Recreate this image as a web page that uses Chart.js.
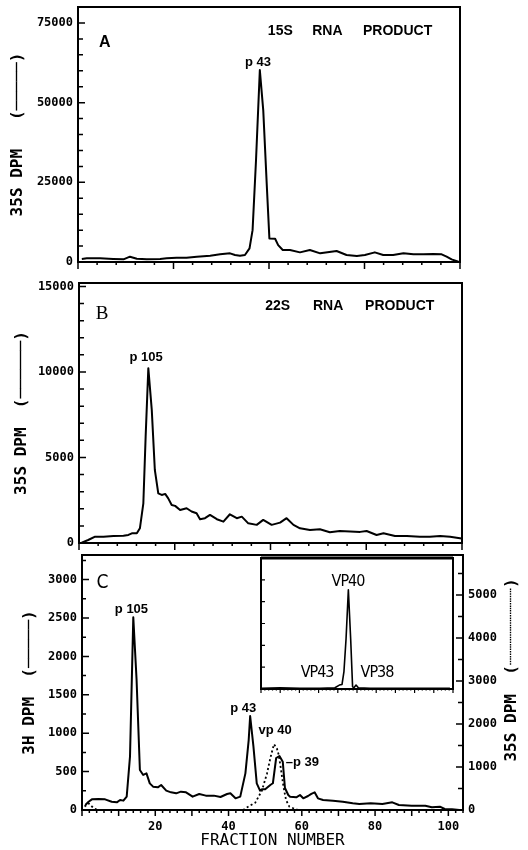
<!DOCTYPE html>
<html lang="en">
<head>
<meta charset="UTF-8">
<title>FRACTION PROFILES</title>
<script src="https://cdn.jsdelivr.net/npm/chart.js"></script>
<style>
    body { margin: 0; background: #fff; }
    #wrap { position: relative; width: 528px; height: 850px; background: #fff; }
    #wrap canvas { position: absolute; }
</style>
</head>
<body>
<div id="wrap">
    <canvas id="chartA" width="528" height="275" style="left:0;top:0"></canvas>
    <canvas id="chartB" width="528" height="276" style="left:0;top:276px"></canvas>
    <canvas id="chartC" width="528" height="305" style="left:0;top:545px"></canvas>
    <canvas id="chartInset" width="202" height="141" style="left:256px;top:553px"></canvas>
</div>
<script>
    // panel A: 15S RNA product (35S dpm)
    var fracA = [1, 2.3, 5.8, 9.2, 11.9, 13.6, 15.4, 18, 21.5, 23.2, 25.8, 28.4, 31.1, 34.6, 37.2, 39.8, 41.1, 42.4, 43.7, 44.9,
        45.7, 46.6, 47.6, 48.5, 49.4, 50.1, 51.6, 52.4, 53.6, 55.5, 58.1, 60.7, 63.4, 67.7, 70.3, 73, 75.1, 77.7, 79.9, 82.5,
        85.2, 87.8, 90.4, 93, 95.2, 96.5, 97.8, 99.6];
    var dpmA = [940, 1150, 1150, 940, 830, 1670, 1040, 830, 940, 1150, 1350, 1350, 1670, 1980, 2400, 2710, 2190, 1980, 2190, 4270,
        10000, 31900, 60200, 47500, 24600, 7400, 7300, 5300, 3750, 3750, 3020, 3750, 2710, 3440, 2190, 1880, 2190, 3020, 2190, 2190,
        2710, 2400, 2400, 2500, 2400, 1670, 830, 100];

    // panel B: 22S RNA product (35S dpm)
    var fracB = [0.7, 2.4, 4.2, 6.4, 9, 11.6, 12.9, 13.8, 15.1, 15.9, 16.8, 17.4, 18.1, 19, 19.8, 20.7, 21.6, 22.5, 23.3, 24.2,
        25.1, 26.4, 28.1, 29.4, 30.7, 31.6, 32.9, 34.2, 36, 37.7, 39.4, 41.2, 42.5, 44.2, 46.4, 48.1, 50.3, 52.5, 54.2, 56,
        57.7, 60.3, 62.9, 65.5, 68.1, 70.8, 73.4, 75.1, 77.7, 79.5, 82.5, 85.6, 89, 91.6, 94.3, 96.9, 98.6, 99.9];
    var dpmB = [20, 175, 370, 370, 410, 430, 470, 565, 565, 860, 2320, 6220, 10220, 7780, 4270, 2900, 2810, 2870, 2610, 2220,
        2170, 1930, 2030, 1840, 1740, 1390, 1450, 1640, 1390, 1250, 1680, 1450, 1540, 1150, 1060, 1350, 1060, 1190, 1450, 1060,
        860, 760, 800, 630, 700, 670, 650, 700, 470, 570, 410, 410, 370, 370, 410, 370, 310, 260];

    // panel C: 3H dpm (solid) and 35S dpm (dotted)
    var fracC = [0.9, 1.8, 2.7, 4.5, 6.3, 8.1, 9.5, 10.4, 11.3, 12.2, 13.1, 14, 14.9, 15.8, 16.7, 17.6, 18.5, 19.4, 20.7, 21.6,
        23, 24.3, 25.7, 27, 28.4, 30.2, 32, 33.8, 36, 37.8, 39.6, 40.5, 41.9, 43.2, 44.6, 45.5, 45.9, 46.8, 47.7, 48.6,
        49.1, 50, 51.4, 52.1, 53, 53.9, 54.8, 55.4, 56.3, 56.8, 58.5, 59.5, 60.4, 61.7, 62.6, 63.5, 64.4, 65.8, 68.5, 71.2,
        73.9, 75.7, 78.8, 82, 84.7, 86.5, 90, 93.7, 95.5, 97.7, 99, 101, 103];
    var h3C = [65, 108, 139, 143, 139, 108, 100, 130, 122, 174, 694, 2508, 1693, 520, 456, 477, 347, 304, 295, 326,
        252, 230, 217, 239, 230, 174, 208, 187, 187, 169, 208, 217, 152, 174, 477, 911, 1224, 825, 347, 252,
        270, 269, 326, 348, 677, 703, 629, 286, 195, 173, 165, 195, 152, 182, 210, 230, 152, 130, 121, 108,
        87, 78, 87, 78, 100, 65, 56, 56, 35, 43, 13, 9, 0];
    var frac35C = [0.7, 1.8, 3.2, 4.2, 44, 45, 47.3, 49.1, 50.5, 51.5, 52.4, 53.2, 53.7, 54.2, 55, 55.7, 56.6, 57.7, 59];
    var s35C = [80, 155, 40, 0, 0, 60, 170, 450, 850, 1240, 1530, 1430, 1280, 1010, 540, 230, 80, 40, 0];

    // inset of panel C
    var fracIn = [0.3, 9.9, 20.3, 30.7, 38.5, 40.8, 42.2, 43.2, 44.3, 45.5, 46.7, 47.7, 48.4, 49.5, 50.7, 56.8, 72.4, 98.4];
    var valIn = [0.03, 0.06, 0.03, 0.03, 0.06, 0.18, 0.21, 0.8, 2.3, 4.54, 2.3, 0.1, 0.06, 0.18, 0.06, 0.03, 0.03, 0.03];

    // tick labels
    var yTicksA = [0, 25000, 50000, 75000];
    var yTicksB = [0, 5000, 10000, 15000];
    var xTicksC = [20, 40, 60, 80, 100];
    var yTicksC = [0, 500, 1000, 1500, 2000, 2500, 3000];
    var y2TicksC = [0, 1000, 2000, 3000, 4000, 5000];

    var MONO = '"DejaVu Sans Mono", monospace';
    var HEAD = 'bold 14px "Liberation Sans", Arial, sans-serif';
    var PEAK = 'bold 13px "Liberation Sans", Arial, sans-serif';
    var NARROW = '16px "Liberation Sans Narrow", "DejaVu Sans Condensed", sans-serif';

    var notesA = [
        {text: 'A', x: 7, y: 68750, font: 'bold 16px "Liberation Sans", sans-serif', align: 'center'},
        {text: '15S', x: 49.7, y: 72500, font: HEAD, align: 'left'},
        {text: 'RNA', x: 61.3, y: 72500, font: HEAD, align: 'left'},
        {text: 'PRODUCT', x: 74.6, y: 72500, font: HEAD, align: 'left'},
        {text: 'p 43', x: 47.1, y: 62500, font: PEAK, align: 'center'}
    ];
    var notesB = [
        {text: 'B', x: 6, y: 13400, font: '19px "Liberation Serif", serif', align: 'center'},
        {text: '22S', x: 48.6, y: 13820, font: HEAD, align: 'left'},
        {text: 'RNA', x: 61.1, y: 13820, font: HEAD, align: 'left'},
        {text: 'PRODUCT', x: 74.7, y: 13820, font: HEAD, align: 'left'},
        {text: 'p 105', x: 17.5, y: 10820, font: PEAK, align: 'center'}
    ];
    var notesC = [
        {text: 'C', x: 5.6, y: 2955, font: '19px "Liberation Sans Narrow", "DejaVu Sans Condensed", sans-serif', align: 'center'},
        {text: 'p 105', x: 13.5, y: 2617, font: PEAK, align: 'center'},
        {text: 'p 43', x: 44, y: 1328, font: PEAK, align: 'center'},
        {text: 'vp 40', x: 52.7, y: 1042, font: PEAK, align: 'center'},
        {text: '\u2013p 39', x: 55.6, y: 625, font: PEAK, align: 'left'}
    ];
    var notesIn = [
        {text: 'VP40', x: 45.3, y: 4.9, font: NARROW, align: 'center'},
        {text: 'VP43', x: 29.2, y: 0.73, font: NARROW, align: 'center'},
        {text: 'VP38', x: 60.4, y: 0.73, font: NARROW, align: 'center'}
    ];

    function points(xs, ys) {
        return xs.map(function (x, i) { return {x: x, y: ys[i]}; });
    }

    function fixAxis(size) {
        return function (scale) {
            if (scale.isHorizontal()) { scale.height = size; } else { scale.width = size; }
            scale.paddingTop = 0; scale.paddingBottom = 0;
            scale.paddingLeft = 0; scale.paddingRight = 0;
        };
    }

    function useTicks(values) {
        return function (scale) {
            scale.ticks = values.map(function (v) { return {value: v}; });
        };
    }

    function plain(v) { return String(v); }

    // box around the plot and tick marks drawn from the scales
    function frameTicks(specs, topWidth) {
        return {
            id: 'frameTicks',
            afterDatasetsDraw: function (chart) {
                var ctx = chart.ctx, a = chart.chartArea;
                ctx.save();
                ctx.strokeStyle = '#000';
                ctx.lineWidth = 2;
                ctx.strokeRect(a.left, a.top, a.right - a.left, a.bottom - a.top);
                if (topWidth) {
                    ctx.lineWidth = topWidth;
                    ctx.beginPath(); ctx.moveTo(a.left, a.top); ctx.lineTo(a.right, a.top); ctx.stroke();
                }
                specs.forEach(function (s) {
                    var sc = chart.scales[s.id];
                    ctx.lineWidth = s.width || 1.5;
                    ctx.beginPath();
                    var start = Math.ceil(sc.min / s.step);
                    for (var i = start; i * s.step <= sc.max + 1e-9; i++) {
                        var v = i * s.step;
                        var major = Math.abs(v / s.major - Math.round(v / s.major)) < 1e-6;
                        var len = major ? s.majLen : s.minLen;
                        var p = sc.getPixelForValue(v);
                        if (s.side === 'bottom') {
                            ctx.moveTo(p, a.bottom); ctx.lineTo(p, a.bottom + (s.inward ? -len : len));
                        } else if (s.side === 'left') {
                            ctx.moveTo(a.left, p); ctx.lineTo(a.left + (s.inward ? len : -len), p);
                        } else {
                            ctx.moveTo(a.right, p); ctx.lineTo(a.right + (s.inward ? -len : len), p);
                        }
                    }
                    ctx.stroke();
                });
                ctx.restore();
            }
        };
    }

    function notesPlugin(list, yId) {
        return {
            id: 'notes',
            afterDatasetsDraw: function (chart) {
                var ctx = chart.ctx;
                ctx.save();
                ctx.fillStyle = '#000';
                ctx.textBaseline = 'middle';
                list.forEach(function (n) {
                    ctx.font = n.font;
                    ctx.letterSpacing = n.font === NARROW ? '-1px' : '0px';
                    ctx.textAlign = n.align;
                    ctx.fillText(n.text, chart.scales.x.getPixelForValue(n.x), chart.scales[yId || 'y'].getPixelForValue(n.y));
                });
                ctx.restore();
            }
        };
    }

    function lineSet(xs, ys, extra) {
        var ds = {
            data: points(xs, ys),
            borderColor: '#000',
            borderWidth: 2,
            borderJoinStyle: 'round',
            pointRadius: 0,
            tension: 0,
            fill: false
        };
        for (var k in extra) { ds[k] = extra[k]; }
        return ds;
    }

    function tickFont() {
        return {family: MONO, size: 12, weight: 'bold'};
    }

    function yTitle(text, pad) {
        return {display: true, text: text, color: '#000', font: {family: MONO, size: 16, weight: 'bold'}, padding: {top: pad, bottom: 0}};
    }

    function valueAxis(max, values, width, extra) {
        var ax = {
            min: 0, max: max,
            grid: {display: false, drawTicks: false}, border: {display: false},
            ticks: {autoSkip: false, padding: 5, color: '#000', font: tickFont(), callback: plain},
            afterBuildTicks: useTicks(values),
            afterFit: fixAxis(width)
        };
        for (var k in extra) { ax[k] = extra[k]; }
        return ax;
    }

    Chart.defaults.animation = false;
    Chart.defaults.plugins.legend.display = false;
    Chart.defaults.plugins.tooltip.enabled = false;

    // ---- panel A
    new Chart(document.getElementById('chartA'), {
        type: 'line',
        data: {datasets: [lineSet(fracA, dpmA)]},
        options: {
            responsive: false,
            layout: {padding: {left: 0, top: 7, right: 68, bottom: 13}},
            scales: {
                x: {type: 'linear', min: 0, max: 100, display: false},
                y: valueAxis(80000, yTicksA, 78, {title: yTitle('35S DPM   (\u2500\u2500\u2500\u2500\u2500)', 8)})
            }
        },
        plugins: [frameTicks([
            {id: 'x', side: 'bottom', step: 5, major: 25, minLen: 3, majLen: 7},
            {id: 'y', side: 'left', inward: true, step: 5000, major: 25000, minLen: 5, majLen: 7}
        ]), notesPlugin(notesA)]
    });

    // ---- panel B
    new Chart(document.getElementById('chartB'), {
        type: 'line',
        data: {datasets: [lineSet(fracB, dpmB)]},
        options: {
            responsive: false,
            layout: {padding: {left: 0, top: 7, right: 66, bottom: 9}},
            scales: {
                x: {type: 'linear', min: 0, max: 100, display: false},
                y: valueAxis(15200, yTicksB, 79, {title: yTitle('35S DPM  (\u2500\u2500\u2500\u2500\u2500\u2500)', 12)})
            }
        },
        plugins: [frameTicks([
            {id: 'x', side: 'bottom', step: 5, major: 25, minLen: 3, majLen: 7},
            {id: 'y', side: 'left', inward: true, step: 1000, major: 5000, minLen: 5, majLen: 7}
        ]), notesPlugin(notesB)]
    });

    // ---- panel C
    var rightTitle = {
        id: 'rightTitle',
        afterDraw: function (chart) {
            var ctx = chart.ctx;
            ctx.save();
            ctx.translate(512, 670 - 545);
            ctx.rotate(-Math.PI / 2);
            ctx.font = 'bold 16px ' + MONO;
            ctx.fillStyle = '#000';
            ctx.textAlign = 'center';
            ctx.textBaseline = 'middle';
            ctx.fillText('35S DPM  (\u2508\u2508\u2508\u2508\u2508\u2508\u2508\u2508)', 0, 0);
            ctx.restore();
        }
    };

    new Chart(document.getElementById('chartC'), {
        type: 'line',
        data: {
            datasets: [
                lineSet(fracC, h3C, {yAxisID: 'y'}),
                lineSet(frac35C, s35C, {yAxisID: 'y2', borderDash: [2, 2.5], borderWidth: 1.8})
            ]
        },
        options: {
            responsive: false,
            layout: {padding: {left: 0, top: 10, right: 0, bottom: 0}},
            scales: {
                x: {
                    type: 'linear', min: 0, max: 104,
                    grid: {display: false, drawTicks: false}, border: {display: false},
                    ticks: {autoSkip: false, padding: 10, color: '#000', font: tickFont(), callback: plain},
                    afterBuildTicks: useTicks(xTicksC),
                    title: {display: true, text: 'FRACTION NUMBER', color: '#000', font: {family: MONO, size: 16}, padding: {top: 0, bottom: 0}},
                    afterFit: fixAxis(40)
                },
                y: valueAxis(3320, yTicksC, 82, {position: 'left', title: yTitle('3H DPM  (\u2500\u2500\u2500\u2500\u2500)', 20)}),
                y2: valueAxis(5930, y2TicksC, 65, {position: 'right'})
            }
        },
        plugins: [frameTicks([
            {id: 'x', side: 'bottom', step: 2, major: 10, minLen: 3, majLen: 6},
            {id: 'y', side: 'left', inward: true, step: 250, major: 500, minLen: 4, majLen: 7},
            {id: 'y2', side: 'right', inward: true, step: 500, major: 1000, minLen: 5, majLen: 7}
        ]), notesPlugin(notesC), rightTitle]
    });

    // ---- inset
    var insetBg = {
        id: 'insetBg',
        beforeDatasetsDraw: function (chart) {
            var a = chart.chartArea, ctx = chart.ctx;
            ctx.save();
            ctx.fillStyle = '#fff';
            ctx.fillRect(a.left, a.top, a.right - a.left, a.bottom - a.top);
            ctx.restore();
        }
    };

    new Chart(document.getElementById('chartInset'), {
        type: 'line',
        data: {datasets: [lineSet(fracIn, valIn, {borderWidth: 1.6})]},
        options: {
            responsive: false,
            layout: {padding: 5},
            scales: {
                x: {type: 'linear', min: 0, max: 100, display: false},
                y: {min: 0, max: 6, display: false}
            }
        },
        plugins: [insetBg, frameTicks([
            {id: 'x', side: 'bottom', step: 2, major: 10, minLen: 1.5, majLen: 4, width: 1.2},
            {id: 'y', side: 'left', inward: true, step: 1, major: 1, minLen: 4, majLen: 4, width: 1.2}
        ], 3), notesPlugin(notesIn)]
    });
</script>
</body>
</html>
